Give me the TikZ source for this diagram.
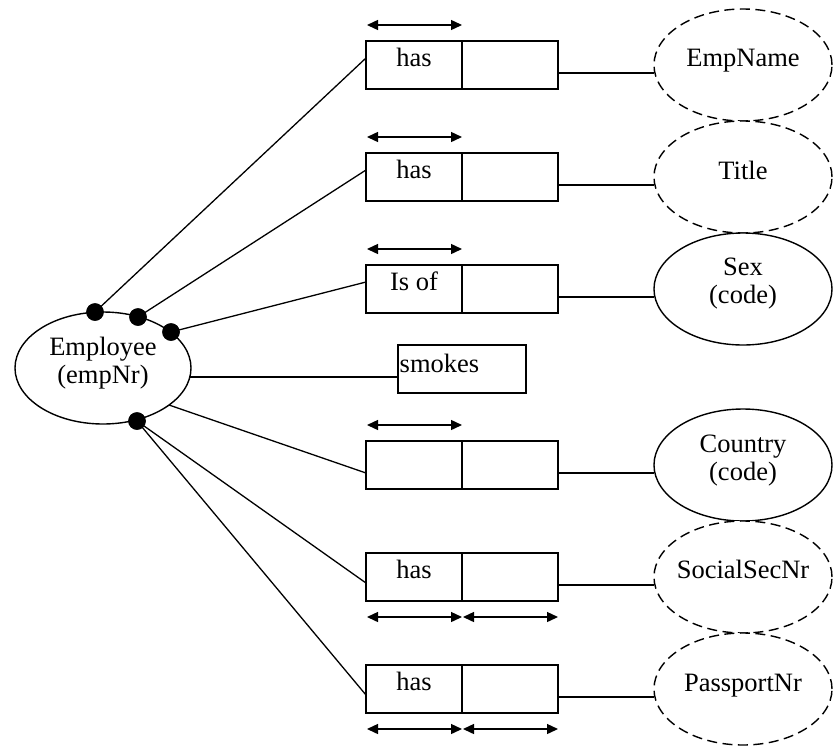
\documentclass[tikz,border=0pt]{standalone}
\usepackage{fontspec}
\setmainfont{Liberation Serif}
\usetikzlibrary{arrows.meta,calc,shapes.geometric}

\begin{document}
\begin{tikzpicture}[x=1pt,y=-1pt,
  line width=1.4pt,
  txt/.style={font=\fontsize{26.5}{28}\selectfont, inner sep=0pt, anchor=base},
  cell/.style={draw, minimum width=96pt, minimum height=48pt, inner sep=0pt, outer sep=0pt},
  obj/.style={draw, ellipse, fill=white, minimum width=178pt, minimum height=112pt, inner sep=0pt, outer sep=0pt},
  valobj/.style={obj, dash pattern=on 10pt off 5.5pt},
  dot/.style={circle, fill, inner sep=0pt, minimum size=17.5pt},
  span/.style={{Triangle[length=11pt,width=10pt]}-{Triangle[length=11pt,width=10pt]}},
  link/.style={line width=1.3pt}
]
\useasboundingbox (0,0) rectangle (833,745);

% entity type
\node[obj, minimum width=176pt] (emp) at (103,368) {};
\node[txt] at ($(emp.center)+(0,-13)$) {Employee};
\node[txt] at ($(emp.center)+(0,15)$) {(empNr)};

% fact type boxes (two roles each)
\foreach \r/\y in {1/65, 2/177, 3/289, 4/465, 5/577, 6/689} {
  \node[cell] (r\r a) at (414,\y) {};
  \node[cell] (r\r b) at (510,\y) {};
}
\node[txt] at ($(r1a.center)+(0,1)$) {has};
\node[txt] at ($(r2a.center)+(0,1)$) {has};
\node[txt] at ($(r3a.center)+(0,1)$) {Is of};
\node[txt] at ($(r5a.center)+(0,1)$) {has};
\node[txt] at ($(r6a.center)+(0,1)$) {has};

% unary fact type
\node[draw, minimum width=128pt, minimum height=48pt, inner sep=0pt, outer sep=0pt] (sm) at (462,369) {};
\node[txt, anchor=base west] at ($(sm.west)+(1,3)$) {smokes};

% uniqueness constraints
\foreach \r in {1,2,3,4} {
  \draw[span] ($(r\r a.north west)+(1,-16)$) -- ($(r\r a.north east)+(0,-16)$);
}
\foreach \r in {5,6} {
  \draw[span] ($(r\r a.south west)+(1,16)$) -- ($(r\r a.south east)+(0,16)$);
  \draw[span] ($(r\r b.south west)+(1,16)$) -- ($(r\r b.south east)+(0,16)$);
}

% value and entity types on the right
\node[valobj] (v1) at (743,65) {};
\node[valobj] (v2) at (743,177) {};
\node[obj]    (v3) at (743,289) {};
\node[obj]    (v4) at (743,465) {};
\node[valobj] (v5) at (743,577) {};
\node[valobj] (v6) at (743,689) {};
\node[txt] at ($(v1.center)+(0,1)$) {EmpName};
\node[txt] at ($(v2.center)+(0,2)$) {Title};
\node[txt] at ($(v3.center)+(0,-14)$) {Sex};
\node[txt] at ($(v3.center)+(0,14)$) {(code)};
\node[txt] at ($(v4.center)+(0,-13)$) {Country};
\node[txt] at ($(v4.center)+(0,15)$) {(code)};
\node[txt] at ($(v5.center)+(0,1)$) {SocialSecNr};
\node[txt] at ($(v6.center)+(0,2)$) {PassportNr};

% connectors: boxes to right-hand types
\foreach \r in {1,...,6} {
  \coordinate (o\r) at ($(r\r b.east)+(0,8)$);
  \draw[link] (o\r) -- (o\r -| v\r.west);
}

% mandatory role dots on the entity
\node[dot] (d1) at ($(emp.center)+(-8,-56)$) {};
\node[dot] (d2) at ($(emp.center)+(35,-51)$) {};
\node[dot] (d3) at ($(emp.center)+(68,-36)$) {};
\node[dot] (d4) at ($(emp.center)+(34,53)$) {};

% connectors: entity to boxes
\coordinate (i1) at ($(r1a.west)+(0,-7)$);
\coordinate (i2) at ($(r2a.west)+(0,-7)$);
\coordinate (i3) at ($(r3a.west)+(0,-7)$);
\coordinate (i4) at ($(r4a.west)+(0,8)$);
\coordinate (i5) at ($(r5a.west)+(0,6)$);
\coordinate (i6) at ($(r6a.west)+(0,6)$);
\coordinate (is) at ($(sm.west)+(0,8)$);
\coordinate (es) at ($(emp.center)+(87,9)$);
\coordinate (e4) at ($(emp.center)+(66,37)$);

\draw[link] (d1.center) -- (i1);
\draw[link] (d2.center) -- (i2);
\draw[link] (d3.center) -- (i3);
\draw[link] (es) -- (is);
\draw[link] (e4) -- (i4);
\draw[link] (d4.center) -- (i5);
\draw[link] (d4.center) -- (i6);

% redraw dots on top of the lines
\node[dot] at (d1) {};
\node[dot] at (d2) {};
\node[dot] at (d3) {};
\node[dot] at (d4) {};
\end{tikzpicture}
\end{document}
